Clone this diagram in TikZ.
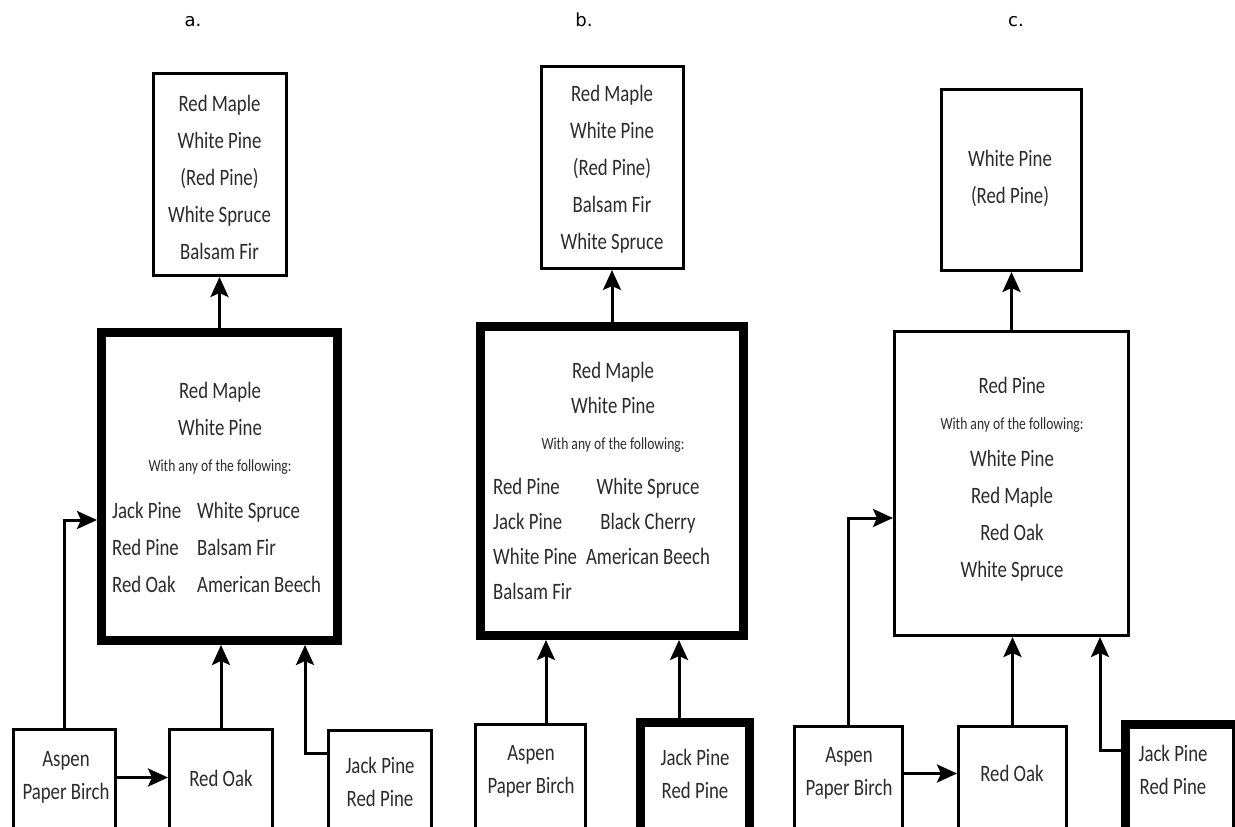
\documentclass[tikz,border=0pt]{standalone}
\usepackage{fontspec}
\setmainfont{Carlito}[FakeStretch=0.8]
\newfontfamily\panelfont{DejaVu Sans}
\usepackage{xcolor}
\definecolor{ink}{rgb}{0.17,0.17,0.17}
\usetikzlibrary{arrows.meta}
\tikzstyle{stand} = [draw, rectangle, line width=3pt, inner sep=0pt]
\tikzstyle{keyStand} = [stand, line width=9pt]
\tikzstyle{species} = [text=ink, align=center, inner sep=0pt, font={\fontsize{23.5}{37}\selectfont}]
\tikzstyle{speciesTight} = [species, font={\fontsize{23.5}{35}\selectfont}]
\tikzstyle{cover} = [species, font={\fontsize{23.5}{33}\selectfont}]
\tikzstyle{note} = [species, font={\fontsize{17}{20}\selectfont}]
\tikzstyle{panel} = [inner sep=0pt, anchor=base, font={\panelfont\fontsize{18}{20}\selectfont}]
\tikzstyle{succ} = [line width=3pt, -{Stealth[length=20pt,width=18pt,inset=4pt]}]

\begin{document}
\begin{tikzpicture}[x=1pt, y=-1pt]
                \useasboundingbox (0,0) rectangle (1235,827);
                \clip (0,0) rectangle (1235,827);
                \fill[white] (0,0) rectangle (1235,827);

                \node[panel] (aLabel) at (193,27) {a.};
                \node[stand, minimum width=133pt, minimum height=202pt] (aTop) at (219.5,174.5) {};
                \node[species] (aTopTxt) at (219.5,177) {Red Maple\\White Pine\\(Red Pine)\\White Spruce\\Balsam Fir};
                \node[keyStand, minimum width=236pt, minimum height=308pt] (aMid) at (219.5,486.5) {};
                \node[species] (aMidHead) at (220,408.5) {Red Maple\\White Pine};
                \node[note] (aMidWith) at (220,467) {With any of the following:};
                \node[species, align=left, anchor=west] (aMidListL) at (112,547.5) {Jack Pine\\Red Pine\\Red Oak};
                \node[species, align=left, anchor=west] (aMidListR) at (197,547.5) {White Spruce\\Balsam Fir\\American Beech};
                \node[stand, minimum width=102pt, minimum height=140pt] (aAsp) at (64.5,799.5) {};
                \node[cover] (aAspTxt) at (66,777.5) {Aspen\\Paper Birch};
                \node[stand, minimum width=103pt, minimum height=140pt] (aOak) at (221,799.5) {};
                \node[cover] (aOakTxt) at (221,778) {Red Oak};
                \node[stand, minimum width=103pt, minimum height=140pt] (aJack) at (380,800.5) {};
                \node[cover] (aJackTxt) at (380,781.5) {Jack Pine\\Red Pine};
                \draw[succ] (aMid.north) -- (aTop.south);
                \draw[succ] (aAsp.north) |- ([yshift=-33.5pt]aMid.west);
                \draw[succ] (aAsp.east |- aAspTxt) -- (aOak.west |- aAspTxt);
                \draw[succ] (aOak.north) -- (aOak.north |- aMid.south);
                \draw[succ] ([yshift=-24pt]aJack.north west) -| ([xshift=85.5pt]aMid.south);

                \node[panel] (bLabel) at (584,27) {b.};
                \node[stand, minimum width=142pt, minimum height=202pt] (bTop) at (612,167.5) {};
                \node[species] (bTopTxt) at (612,169) {Red Maple\\White Pine\\(Red Pine)\\Balsam Fir\\White Spruce};
                \node[keyStand, minimum width=263pt, minimum height=309pt] (bMid) at (612,481) {};
                \node[speciesTight] (bMidHead) at (613,387.5) {Red Maple\\White Pine};
                \node[note] (bMidWith) at (613,445) {With any of the following:};
                \node[speciesTight, align=left, anchor=west] (bMidListL) at (493,538.5) {Red Pine\\Jack Pine\\White Pine\\Balsam Fir};
                \node[speciesTight] (bMidListR) at (648,521) {White Spruce\\Black Cherry\\American Beech};
                \node[stand, minimum width=110pt, minimum height=140pt] (bAsp) at (530.5,794.5) {};
                \node[cover] (bAspTxt) at (531,771.5) {Aspen\\Paper Birch};
                \node[keyStand, minimum width=109pt, minimum height=140pt] (bJack) at (695,792.5) {};
                \node[cover] (bJackTxt) at (695,773.5) {Jack Pine\\Red Pine};
                \draw[succ] (bMid.north) -- (bTop.south);
                \draw[succ] ([xshift=15.5pt]bAsp.north) -- ([xshift=-66pt]bMid.south);
                \draw[succ] ([xshift=-16pt]bJack.north) -- ([xshift=67pt]bMid.south);

                \node[panel] (cLabel) at (1016,27) {c.};
                \node[stand, minimum width=140pt, minimum height=181pt] (cTop) at (1011.5,180) {};
                \node[species] (cTopTxt) at (1010,178.5) {White Pine\\(Red Pine)};
                \node[stand, minimum width=234pt, minimum height=304pt] (cMid) at (1011.5,483.5) {};
                \node[species] (cMidHead) at (1012,385) {Red Pine};
                \node[note] (cMidWith) at (1012,425) {With any of the following:};
                \node[species] (cMidList) at (1012,516) {White Pine\\Red Maple\\Red Oak\\White Spruce};
                \node[stand, minimum width=108pt, minimum height=140pt] (cAsp) at (848.5,796.5) {};
                \node[cover] (cAspTxt) at (849,773.5) {Aspen\\Paper Birch};
                \node[stand, minimum width=108pt, minimum height=140pt] (cOak) at (1012.5,796.5) {};
                \node[cover] (cOakTxt) at (1012,773) {Red Oak};
                \node[keyStand, minimum width=110.5pt, minimum height=140pt] (cJack) at (1180.75,794.5) {};
                \node[cover] (cJackTxt) at (1173,770) {Jack Pine\\Red Pine};
                \draw[succ] (cMid.north) -- (cTop.south);
                \draw[succ] (cAsp.north) |- ([yshift=-34.5pt]cMid.west);
                \draw[succ] (cAsp.east |- cAspTxt) -- (cOak.west |- cAspTxt);
                \draw[succ] (cOak.north) -- (cOak.north |- cMid.south);
                \draw[succ] ([yshift=-30pt]cJack.north west) -| ([xshift=88.5pt]cMid.south);
            \end{tikzpicture}
\end{document}
